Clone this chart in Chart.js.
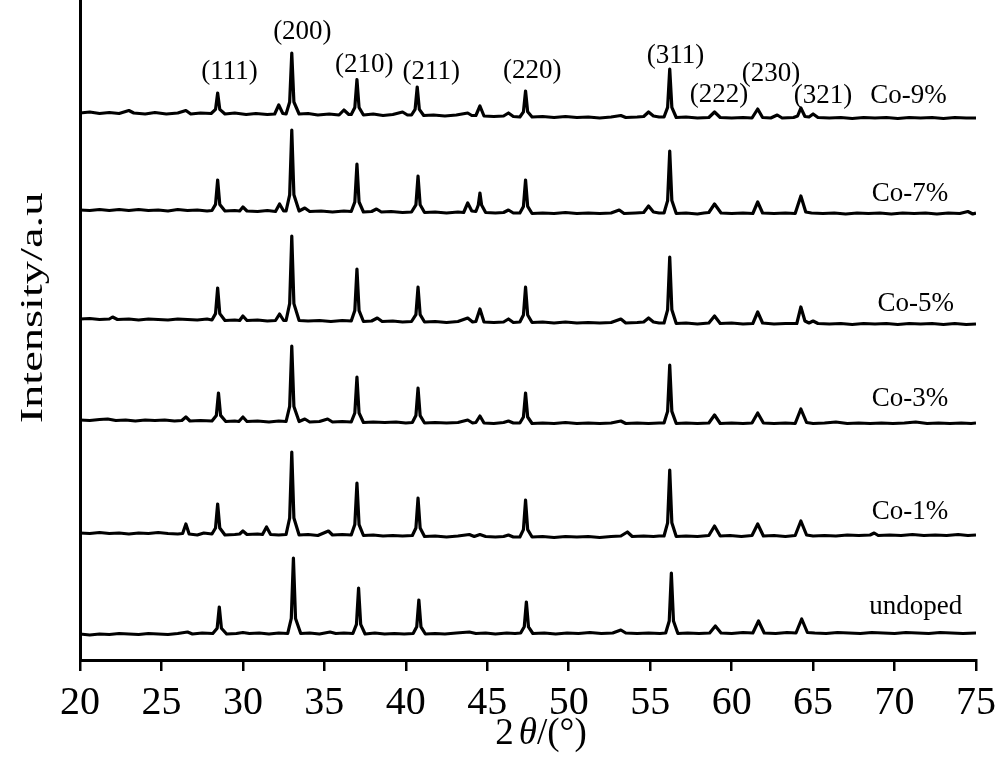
<!DOCTYPE html>
<html>
<head>
<meta charset="utf-8">
<script src="https://cdn.jsdelivr.net/npm/chart.js@4.4.1/dist/chart.umd.min.js"></script>
<style>
  html, body { margin: 0; padding: 0; background: #fff; }
  #wrap { width: 1000px; height: 764px; }
</style>
</head>
<body>
<div id="wrap"><canvas id="xrd" width="1000" height="764"></canvas></div>
<script>
const SERIF = "'Liberation Serif', 'Times New Roman', serif";

// x tick labels (2theta)
const xTicks = [20, 25, 30, 35, 40, 45, 50, 55, 60, 65, 70, 75];

// sample names, bottom to top, and the vertical offset of each pattern (a.u.)
const samples = ['undoped', 'Co-1%', 'Co-3%', 'Co-5%', 'Co-7%', 'Co-9%'];
const offsets = [27, 127, 240, 341, 450, 547];

// where the sample names sit (2theta, a.u.)
const sampleLabelX = [71.3, 70.95, 70.95, 71.3, 70.95, 70.85];
const sampleLabelY = [53, 148, 261, 356, 466, 564];

// Miller index labels over the Co-9% pattern
const hkl = ['(111)', '(200)', '(210)', '(211)', '(220)', '(311)', '(222)', '(230)', '(321)'];
const hklX = [29.17, 33.65, 37.45, 41.56, 47.76, 56.56, 59.23, 62.42, 65.61];
const hklY = [588, 628, 595, 588, 589, 604, 565, 586, 564];

// patterns: [2theta, intensity above own offset]
const undoped = [[20,-1],[20.6,-2],[21.2,-1],[21.8,-1.5],[22.4,-0.5],[23,-1],[23.6,-1.5],[24.2,-0.5],[24.8,-1],[25.4,-1.5],[26.0,-0.5],[26.6,1],[26.9,-1],[27.5,0],[28.15,-0.5],
  [28.42,4.8],[28.55,26],[28.68,4.8],[29.0,-1],
  [29.6,-0.5],[30.0,0.5],[30.4,-0.5],[31,0],[31.6,-1],[32.2,0],[32.75,-0.5],
  [32.97,14.6],[33.1,75],[33.23,14.6],[33.55,-0.5],
  [34.1,0],[34.7,-1],[35.35,1],[35.7,-0.5],[36.2,0],[36.75,-0.5],
  [36.97,8.6],[37.1,45],[37.23,8.6],[37.5,-1],
  [38.1,0],[38.7,-1],[39.3,-0.5],[39.9,-1],[40.45,-0.5],
  [40.67,6.2],[40.8,33],[40.93,6.2],[41.2,-1],
  [41.8,-0.5],[42.4,-1],[43.1,0],[43.9,1],[44.3,-0.5],[44.9,0],[45.5,-1],[46.2,0],[46.7,-0.5],[47.05,0],
  [47.27,6.2],[47.4,31],[47.53,6.2],[47.8,-0.5],
  [48.5,0],[49.2,-1],[49.9,0],[50.6,-0.5],[51.3,0.5],[52,-0.5],[52.7,0],[53.2,3],[53.5,0],[54.2,-0.5],[54.9,0],[55.6,-0.5],[55.95,0],
  [56.17,12],[56.3,60],[56.43,12],[56.7,-0.5],
  [57.3,0],[58,-0.5],[58.65,0],[59.0,7],[59.35,0],[60,-0.5],[60.7,0.5],[61.3,0],[61.65,12],[62,0],[62.7,-0.5],[63.4,0.5],[63.95,0],[64.3,14],[64.65,0.5],[65.1,0],
  [65.8,-0.5],[66.5,0.5],[67.2,0],[67.9,-0.5],[68.6,0.5],[69.3,0],[70,-0.5],[70.7,0.5],[71.4,0],[72.1,-0.5],[72.8,0.5],[73.5,0],[74.2,-0.5],[75,0]];

const co1 = [[20,0],[20.6,-0.5],[21.2,0.5],[21.8,-0.5],[22.4,0],[23,-1],[23.6,0],[24.2,-0.5],[24.8,0.5],[25.4,-0.5],[26.0,-1],[26.3,-0.5],[26.5,9],[26.7,-1],[27.2,-2],[27.6,0],[28.1,-1],
  [28.32,5],[28.45,29],[28.58,5],[28.9,-2],
  [29.5,-1.5],[29.8,-1],[30.0,2],[30.25,-1.5],[30.9,-1],[31.2,-1.5],[31.45,6],[31.7,-1.5],[32.2,-2],[32.65,-1.5],
  [32.87,15],[33.0,81],[33.13,15],[33.45,-2],
  [34,-1.5],[34.6,-2.5],[35.25,2],[35.5,-2],[36.1,-1.5],[36.65,-2],
  [36.87,8.4],[37.0,50],[37.13,8.4],[37.4,-2.5],
  [38,-2],[38.6,-3],[39.2,-2.5],[39.8,-3],[40.4,-2.5],
  [40.62,5],[40.75,35],[40.88,5],[41.15,-3.5],
  [41.8,-3],[42.5,-4],[43.2,-3],[43.9,-1.5],[44.2,-3.5],[44.55,-1.5],[44.9,-3.5],[45.5,-4],[46.0,-3.5],[46.3,-2],[46.6,-4],[47.0,-4],
  [47.22,3.4],[47.35,33],[47.48,3.4],[47.75,-4],
  [48.4,-3.5],[49.1,-4.5],[49.8,-3.5],[50.5,-4],[51.2,-3.5],[51.9,-4.5],[52.6,-3.5],[53.2,-3],[53.6,1],[53.9,-3.5],[54.6,-3],[55.2,-3.5],[55.55,-3],
  [55.85,-3],[56.07,10.2],[56.2,63],[56.33,10.2],[56.6,-3.5],
  [57.2,-3],[57.9,-3.5],[58.6,-2.5],[58.95,7],[59.3,-3],[59.9,-2.5],[60.6,-3.5],[61.25,-2.5],[61.6,9],[61.95,-3],[62.6,-2.5],[63.3,-3.5],[63.9,-2.5],[64.25,12],[64.6,-2],[65,-3],
  [65.7,-2.5],[66.4,-3],[67.1,-2],[67.8,-2.5],[68.5,-2],[68.75,0],[69,-2.5],[69.7,-2],[70.4,-2.5],[71.1,-1.5],[71.8,-2.5],[72.5,-2],[73.2,-2.5],[73.9,-1.5],[74.5,-2.5],[75,-2]];

const co3 = [[20,0],[20.6,-0.5],[21.2,0.5],[21.7,1],[22.2,-0.5],[22.8,0],[23.4,-1],[24,0],[24.6,-0.5],[25.2,0],[25.8,-1],[26.25,-0.5],[26.5,3],[26.75,-1],[27.4,-0.5],[28.1,-1],
  [28.37,4.6],[28.5,27],[28.63,4.6],[28.95,-1.5],
  [29.5,-1],[29.75,-1.5],[30.0,3],[30.25,-1.5],[30.9,-1],[31.6,-2],[32.2,-1],[32.65,-1.5],
  [32.87,13.6],[33.0,74],[33.13,13.6],[33.45,-1.5],[33.8,1],[34.1,-2],
  [34.7,-1.5],[35.2,1],[35.5,-2],[36.1,-1.5],[36.65,-2],
  [36.87,7],[37.0,43],[37.13,7],[37.4,-2.5],
  [38,-2],[38.7,-2.5],[39.4,-2],[40.0,-3],[40.4,-2.5],
  [40.62,4.4],[40.75,32],[40.88,4.4],[41.15,-3],
  [41.8,-2.5],[42.5,-3],[43.2,-2.5],[43.8,0],[44.1,-3],
  [44.3,-2.5],[44.55,4],[44.8,-3],
  [45.4,-3.5],[46.0,-2.5],[46.3,-1],[46.6,-3],[47.0,-3],
  [47.22,3],[47.35,27],[47.48,3],[47.75,-3.5],
  [48.4,-3],[49.1,-3.5],[49.8,-2.5],[50.5,-3.5],[51.2,-3],[51.9,-3.5],[52.6,-3],[53.2,-1],[53.5,-3.5],[54.2,-3],[54.9,-3.5],[55.55,-3],
  [55.85,-3],[56.07,8.6],[56.2,55],[56.33,8.6],[56.6,-3.5],
  [57.2,-3],[57.9,-3.5],[58.6,-3],[58.95,5],[59.3,-3.5],[60,-3],[60.7,-3.5],[61.25,-3],[61.6,7],[61.95,-3],[62.6,-3.5],[63.3,-3],[63.9,-3.5],[64.25,11],[64.6,-2.5],[65.0,-3.5],
  [65.7,-3],[66.4,-2],[67.1,-3.5],[67.8,-3],[68.5,-3.5],[69.2,-3],[69.9,-3.5],[70.6,-3],[71.3,-2],[72,-3.5],[72.7,-3],[73.4,-3.5],[74.1,-3],[74.7,-3.5],[75,-3]];

const co5 = [[20,0],[20.6,0.5],[21.2,-0.5],[21.8,0],[22.0,2],[22.3,-0.5],[23,0],[23.6,-1],[24.2,0],[24.8,-0.5],[25.4,-1],[26,0],[26.6,-0.5],[27.2,-1],[27.8,0],[28.1,-1],
  [28.32,5.4],[28.45,31],[28.58,5.4],[28.9,-1.5],
  [29.5,-1],[29.8,-1.5],[30.0,3],[30.25,-1.5],[30.9,-1],[31.5,-2],[32.0,-1.5],[32.25,5],[32.5,-1.5],
  [32.65,-1.5],[32.87,15.4],[33.0,83],[33.13,15.4],[33.45,-1.5],
  [34,-2],[34.7,-1.5],[35.4,-2.5],[36.1,-1.5],[36.65,-2],
  [36.87,8.4],[37.0,50],[37.13,8.4],[37.4,-2.5],
  [37.9,-2],[38.25,1],[38.55,-2.5],[39.2,-2],[39.8,-3],[40.35,-2.5],
  [40.62,4.4],[40.75,32],[40.88,4.4],[41.15,-3],
  [41.8,-2.5],[42.5,-3.5],[43.2,-2.5],[43.8,1],[44.1,-3],
  [44.3,-2.5],[44.55,10],[44.8,-3],
  [45.4,-3.5],[46.0,-3],[46.3,0],[46.6,-3.5],[47.0,-3],
  [47.22,4],[47.35,32],[47.48,4],[47.75,-3.5],
  [48.4,-3],[49.1,-4],[49.8,-3],[50.5,-4],[51.2,-3.5],[51.9,-4],[52.6,-3.5],[53.2,0],[53.5,-4],[54.2,-3.5],[54.6,-3],[54.9,1],[55.2,-3],[55.55,-4],
  [55.85,-4],[56.07,9.2],[56.2,62],[56.33,9.2],[56.6,-4.5],
  [57.2,-4],[57.9,-5],[58.6,-4],[58.95,3],[59.3,-4.5],[60,-4],[60.7,-5],[61.3,-4.5],[61.6,7],[61.9,-4],[62.6,-5],[63.3,-4.5],[64.0,-4.5],[64.25,12],[64.5,-2],[64.75,-4],[65.0,-2],[65.3,-4.5],
  [66,-5],[66.7,-4.5],[67.4,-5.5],[68.1,-4.5],[68.8,-5],[69.5,-4.5],[70.2,-5.5],[70.9,-4.5],[71.6,-5],[72.3,-4.5],[73,-5.5],[73.7,-4.5],[74.4,-5.5],[75,-5]];

const co7 = [[20,0],[20.6,-0.5],[21.2,0.5],[21.8,-0.5],[22.4,0.5],[23,-0.5],[23.6,0.5],[24.2,-0.5],[24.8,0],[25.4,-1],[26,0.5],[26.6,-0.5],[27.2,0],[27.8,-1],[28.1,-0.5],
  [28.32,5.6],[28.45,30],[28.58,5.6],[28.9,-1],
  [29.5,-0.5],[29.8,-1],[30.0,3],[30.25,-1],[30.9,-1.5],[31.5,-0.5],[32.0,-1.5],[32.25,6],[32.5,-1],
  [32.65,-1],[32.87,15.2],[33.0,80],[33.13,15.2],[33.45,-1],[33.8,2],[34.1,-1.5],
  [34.8,-1],[35.5,-2],[36.2,-1],[36.65,-1.5],
  [36.87,8],[37.0,46],[37.13,8],[37.4,-2],
  [37.9,-1.5],[38.2,1],[38.5,-2],[39.1,-1.5],[39.8,-2.5],[40.35,-2],
  [40.62,5.2],[40.75,34],[40.88,5.2],[41.15,-2.5],
  [41.8,-2],[42.5,-3],[43.2,-2],[43.55,-2.5],[43.8,7],[44.05,-1],[44.3,-1.5],
  [44.45,5],[44.55,17],[44.65,5],[44.9,-2.5],
  [45.5,-3],[46.0,-2.5],[46.3,0],[46.6,-3],[47.0,-3],
  [47.22,3.6],[47.35,30],[47.48,3.6],[47.75,-3.5],
  [48.4,-3],[49.1,-3.5],[49.8,-2.5],[50.5,-3.5],[51.2,-3],[51.9,-3.5],[52.6,-3],[53.1,0],[53.4,-3.5],[54.1,-3],[54.6,-2.5],[54.9,4],[55.2,-2],[55.55,-3],
  [55.85,-3],[56.07,9.4],[56.2,59],[56.33,9.4],[56.6,-3.5],
  [57.2,-3],[57.9,-4],[58.3,-3],[58.6,-2.5],[58.95,6],[59.35,-3],[60,-3.5],[60.7,-3],[61.3,-3.5],[61.6,8],[61.9,-3],[62.6,-3.5],[63.3,-3],[63.9,-3.5],[64.25,14],[64.55,-2],[64.9,-3],
  [65.6,-3.5],[66.3,-3],[67,-4],[67.7,-3],[68.4,-3.5],[69.1,-3],[69.8,-4],[70.5,-3],[71.2,-3.5],[71.9,-3],[72.6,-4],[73.3,-3],[74,-3.5],[74.5,-1.5],[74.8,-4],[75,-3]];

const co9 = [[20,0],[20.6,1],[21.2,-0.5],[21.8,0.5],[22.4,-0.5],[23,2.5],[23.3,0],[24,-1],[24.6,0.5],[25.3,-1],[26,0],[26.5,2.5],[26.8,-1],[27.4,0],[28.05,-0.5],
  [28.32,3.6],[28.45,20],[28.58,3.6],[28.9,-1],
  [29.5,0],[30.2,-1.5],[30.8,-0.5],[31.5,-1.5],[31.95,-1],[32.2,8],[32.45,-0.5],
  [32.65,-1],[32.87,11],[33.0,60],[33.13,11],[33.45,-1],
  [34,-0.5],[34.6,-2],[35.3,-1],[35.9,-2],[36.2,3],[36.5,-1.5],
  [36.65,-1.5],[36.87,5.5],[37.0,33.5],[37.13,5.5],[37.4,-2],
  [38,-1],[38.6,-2.5],[39.2,-1.5],[39.8,1],[40.1,-2],
  [40.35,-2],[40.57,3.6],[40.7,26],[40.83,3.6],[41.1,-2.5],
  [41.7,-2],[42.4,-3],[43.1,-2],[43.8,0],[44.05,-2.5],
  [44.3,-2.5],[44.55,7],[44.8,-3],
  [45.4,-3.5],[46.0,-3],[46.3,0],[46.6,-3.5],[47.0,-4],
  [47.22,1.2],[47.35,22],[47.48,1.2],[47.75,-4],
  [48.4,-3.5],[49.1,-4.5],[49.8,-3.5],[50.5,-4.5],[51.2,-4],[51.9,-5],[52.6,-4],[53.2,-2.5],[53.5,-4.5],[54.2,-4],[54.6,-3.5],[54.9,1],[55.2,-3],[55.55,-4],
  [55.85,-4],[56.07,5.6],[56.2,44],[56.33,5.6],[56.6,-4.5],
  [57.2,-4],[57.9,-5],[58.6,-4.5],[58.95,1],[59.3,-4.5],[60,-5],[60.7,-4.5],[61.25,-5],
  [61.6,4],[61.9,-4.5],[62.4,-5],[62.8,-2],[63.1,-5],[63.8,-4.5],[64.05,-3],[64.25,5],[64.5,-3.5],[64.75,-4],[65.0,-1],[65.3,-4.5],
  [66,-5],[66.7,-4.5],[67.4,-5.5],[68.1,-4.5],[68.8,-5],[69.5,-4.5],[70.2,-5.5],[70.9,-4.5],[71.6,-5],[72.3,-4.5],[73,-5.5],[73.7,-4.5],[74.4,-5],[75,-5]];

const patterns = [undoped, co1, co3, co5, co7, co9];

// text drawn on top of the plot: sample names, hkl indices, axis titles
const annotate = {
  id: 'annotate',
  afterDraw(chart) {
    const { ctx, scales: { x, y } } = chart;
    ctx.save();
    ctx.fillStyle = '#000';
    ctx.textAlign = 'center';
    ctx.textBaseline = 'middle';
    ctx.font = '27px ' + SERIF;
    samples.forEach((s, i) => {
      ctx.fillText(s, x.getPixelForValue(sampleLabelX[i]), y.getPixelForValue(sampleLabelY[i]));
    });
    hkl.forEach((s, i) => {
      ctx.fillText(s, x.getPixelForValue(hklX[i]), y.getPixelForValue(hklY[i]));
    });

    // x title: 2θ/(°) with italic theta, centred a little right of the axis middle
    const cx = x.getPixelForValue(48.3);
    const base = 744;
    ctx.textBaseline = 'alphabetic';
    ctx.textAlign = 'left';
    const fN = '37px ' + SERIF, fI = 'italic 37px ' + SERIF;
    ctx.font = fN; const w1 = ctx.measureText('2').width;
    ctx.font = fI; const w2 = ctx.measureText('θ').width;
    ctx.font = fN; const w3 = ctx.measureText('/(°)').width;
    const gap = 5;
    let sx = cx - (w1 + gap + w2 + w3) / 2;
    ctx.font = fN; ctx.fillText('2', sx, base); sx += w1 + gap;
    ctx.font = fI; ctx.fillText('θ', sx, base); sx += w2;
    ctx.font = fN; ctx.fillText('/(°)', sx, base);

    // y title, stretched along its length like the original
    ctx.translate(42, 308);
    ctx.rotate(-Math.PI / 2);
    ctx.scale(1.45, 1);
    ctx.textAlign = 'center';
    ctx.font = '32px ' + SERIF;
    ctx.fillText('Intensity/a.u', 0, 0);
    ctx.restore();
  }
};

new Chart(document.getElementById('xrd'), {
  type: 'line',
  data: {
    datasets: patterns.map((p, i) => ({
      label: samples[i],
      data: p.map(([tt, v]) => ({ x: tt, y: v + offsets[i] })),
      borderColor: '#000',
      borderWidth: 3.2,
      borderJoinStyle: 'round',
      pointRadius: 0,
      tension: 0,
      fill: false
    }))
  },
  options: {
    responsive: false,
    animation: false,
    devicePixelRatio: 1,
    layout: { padding: { left: 0, right: 24, top: 0, bottom: 0 } },
    plugins: { legend: { display: false }, tooltip: { enabled: false } },
    scales: {
      x: {
        type: 'linear',
        min: 20,
        max: 75,
        afterFit: s => { s.height = 104; s.paddingLeft = 0; s.paddingRight = 0; },
        afterBuildTicks: s => { s.ticks = xTicks.map(v => ({ value: v })); },
        ticks: { color: '#000', font: { family: SERIF, size: 40 }, padding: 8, maxRotation: 0 },
        grid: { drawOnChartArea: false, drawTicks: true, tickLength: 11, color: '#000', lineWidth: 2.5 },
        border: { display: true, color: '#000', width: 3 }
      },
      y: {
        min: 0,
        max: 660,
        afterFit: s => { s.width = 80; s.paddingTop = 0; s.paddingBottom = 0; },
        ticks: { display: false },
        grid: { display: false, drawTicks: false },
        border: { display: true, color: '#000', width: 3 }
      }
    }
  },
  plugins: [annotate]
});
</script>
</body>
</html>
